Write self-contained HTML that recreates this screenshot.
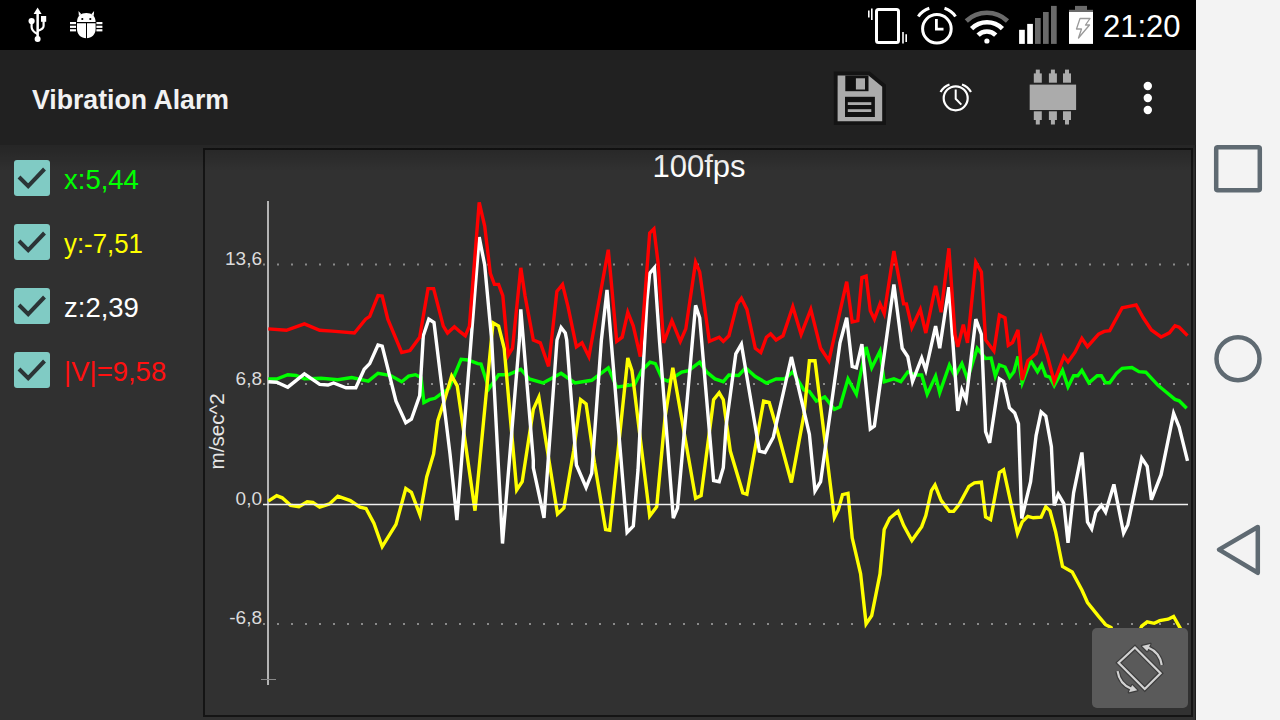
<!DOCTYPE html>
<html><head><meta charset="utf-8"><title>Vibration Alarm</title>
<style>
html,body{margin:0;padding:0;width:1280px;height:720px;overflow:hidden;background:#303030;}
svg{display:block;font-family:"Liberation Sans",sans-serif;}
</style></head>
<body>
<svg width="1280" height="720" viewBox="0 0 1280 720">
<defs>
<linearGradient id="shadow" x1="0" y1="0" x2="0" y2="1">
<stop offset="0" stop-color="#000" stop-opacity="0.22"/>
<stop offset="1" stop-color="#000" stop-opacity="0"/>
</linearGradient>
</defs>
<rect x="0" y="145" width="1196" height="575" fill="#303030"/>
<rect x="204" y="149" width="988" height="567" fill="#313131" stroke="#141414" stroke-width="2"/>
<!-- grid -->
<g stroke="#8a8a8a" stroke-width="2" stroke-dasharray="2 12">
<line x1="263" y1="264.5" x2="1190" y2="264.5"/>
<line x1="263" y1="384" x2="1190" y2="384"/>
<line x1="263" y1="624" x2="1190" y2="624"/>
</g>

<line x1="268" y1="201" x2="268" y2="685" stroke="#b4b4b4" stroke-width="2"/>
<line x1="261" y1="679.5" x2="276" y2="679.5" stroke="#8a8a8a" stroke-width="1"/>
<g font-size="19" fill="#dcdcdc" text-anchor="end">
<text x="262" y="265">13,6</text>
<text x="262" y="385">6,8</text>
<text x="262" y="504.5">0,0</text>
<text x="262" y="624">-6,8</text>
</g>
<text transform="translate(224.3 469.4) rotate(-90)" font-size="20" fill="#e6e6e6" textLength="76" lengthAdjust="spacingAndGlyphs">m/sec^2</text>
<text x="699" y="177" font-size="31" fill="#ffffff" text-anchor="middle">100fps</text>
<g fill="none" stroke-width="3.4" stroke-linejoin="miter" stroke-miterlimit="4" stroke-linecap="butt">
<polyline points="268.3,378.9 276.7,379 287.8,374.7 296,375.5 304.4,378.9 321,378.3 337.8,379.7 351.7,377.5 368.3,381.1 378,373.3 390.6,375.6 401.7,381.7 408.6,376.1 415.6,374.7 421.1,377.5 423.9,402.5 429.4,399.7 435,398.3 440.6,394.2 448.9,388.6 461.1,359.4 468,360 477.8,363.6 481,364 488.9,388.6 498.6,374.7 508.3,374.7 520.8,369.2 529.2,378.9 543,383 561.1,373.3 575,383 591.7,380.3 608.3,367.8 616.7,387.2 634.7,384.4 641.7,370.6 650,362.2 655.3,363.6 662.2,378.9 667.8,381.1 681.7,372 688.6,370.6 699.7,362.2 706.7,372 715,378.9 723.3,381.7 728.9,375 738.6,375.5 745.6,367.8 755.3,376.5 766.4,383 776.1,379 784.4,379 792.8,371.9 803.9,390 809.4,391.4 816.4,401.1 824.7,397 834.4,409.4 840,406.7 848,378.9 856.4,394.2 866.1,347 871.7,367.8 880,351.1 884.2,381.7 893.9,378.9 900.8,381.7 907.8,372 916.1,375 921.7,375 927.2,394.2 935.6,376.1 939.7,392.8 949.4,365 955,376.1 961.9,363.6 967.5,378.9 977.2,348.3 985.6,358.5 991.1,358 995.3,376.1 999.4,365 1005,367 1009.7,377.2 1013.9,371.7 1018,356.4 1022.2,382.8 1030.6,360.6 1037.5,371.7 1041.7,364.7 1045.8,375.8 1050,377.2 1054.2,385.6 1062.5,370.3 1068,386.9 1073.6,375.8 1077.8,375.8 1081.9,370.3 1088.9,382.8 1097.2,375.8 1101.4,375.8 1105.6,382.8 1109.7,382.8 1116.7,373.1 1122.2,368.3 1131.9,367.5 1138.9,371.7 1145.8,372.2 1158.3,385.6 1166.7,392.5 1175,399.4 1179.2,400.8 1186.7,408.3" stroke="#00ff00"/>
<polyline points="268.3,501.1 276.7,495.6 282.2,497.8 290.6,505.3 298.9,506.7 307.2,501.7 312.8,502.5 319.7,507.2 329.4,503.9 337.8,496.1 350.3,500.6 360,507.2 366,508.5 373.9,523.3 382.2,546.7 396,524.4 405.8,488.5 411.4,492.3 420,515 426.7,477 433.6,453.9 437.8,420.6 443.3,403.9 451.7,376.1 457.2,385.8 475,510.7 493,322.8 498.6,326.1 504.2,348.3 516.7,490 522.2,481.7 533.3,409.4 538.9,397 557.5,514 563.9,508 573.6,451.1 580.6,399.7 586.1,403.9 594.4,462.2 605.6,529.5 609.7,530.3 627.8,358 632,370.6 649.7,516 656.7,506.7 665,417.8 672.8,367.8 695.6,498.3 701.1,495.6 713.6,399.7 719.2,392.8 723.3,399.7 730.3,451.1 742.8,492.8 746.9,494.2 763.6,401.1 769.2,402.5 776.1,426.1 791.4,482.5 803.9,415 809.4,360.8 815,360.8 831.7,495.6 834.4,517.5 838.3,510 842.5,494.7 848,493.3 852.2,537.8 860.6,573.9 866.1,623.9 871.7,615.6 880,573.9 884.2,529.4 889.7,518.3 898,511.4 903.6,525.3 911.9,540.6 921.7,526.7 925.8,515.6 931.4,490.6 935,485 941.1,500.3 949.4,511.4 953.6,511.4 959.2,504.4 968.9,486.4 974.4,482.8 981.4,482.2 985.6,517 990.6,519.7 999.4,472.5 1003.6,469.7 1017.5,533.6 1022.2,521.9 1027.8,516.4 1033.3,517.8 1041.1,517.2 1045.8,506.7 1050,510.8 1055.6,531.7 1062.5,566.4 1072.2,571.9 1081.9,590 1087.5,602.5 1098.6,616.4 1105.6,624.7 1111.1,627.5 1116,640 1136,640 1141.7,626.1 1147.2,621.9 1154.2,623.3 1159.7,620.6 1168.1,619.2 1173.6,616.4 1180.6,628.9" stroke="#ffff00"/>
<polyline points="268.3,381.7 276.7,382.2 287.8,387.2 304.4,373.9 319.7,384.4 328,385 333.6,383 346,387.8 355.8,387.8 364.2,369.2 369.7,363.6 378,345 382.2,346.1 396,401.1 405.8,422.8 411.4,419.2 419.7,395.6 423.3,335.8 428.8,319.2 434,322.6 450,453.9 456.9,520 479.2,237.2 484.7,265 491.7,340 502.5,543.5 519.4,340 520.8,309.4 533.3,460 533.3,467.8 544,517.8 557,340 561.1,327.5 565.3,333 566.7,340 576.4,465 586.1,487.5 591.7,473.3 601.4,340 607,290 611.1,340 627.1,532.5 633.3,526.1 638,470 642,390 647,300 649.7,273.3 654.4,267.8 659.4,340 673.3,518 677.5,508 695.6,305.3 699.7,317.8 713.6,480.5 719.2,481.7 723.3,467.8 726.1,426.1 735.8,353.9 741.4,344.2 759.4,451.1 765,452.5 773.3,437.2 791.4,357 809.4,434.4 815,491 820.6,481.7 840,342.8 846.7,317.8 852.2,366.4 856.4,367.8 861.9,344.2 870.3,428.9 874.4,426.1 893.9,284.4 902.2,348.3 907.8,356.7 912.5,381.7 921.7,358 925.8,370 935.6,326.1 939.7,348.3 948.9,287.2 957.8,410.8 961.9,390 966.1,399.7 975.8,319.2 981.4,334.4 985.6,431.7 989.7,442.8 999.4,378.9 1003.6,381.5 1009.5,408 1014.7,413 1018.5,423.8 1021.7,518.5 1030.6,481.7 1036.1,435.6 1041.1,411.9 1045.8,416.1 1051.4,446.7 1054.2,505.3 1058.3,494.2 1063.9,503.9 1068,542.8 1073.6,492.8 1081.9,452.5 1087.5,521.9 1091.7,528.9 1095.8,512.2 1101.4,505.3 1105.6,512.2 1113.9,484.4 1123.6,533.1 1127.8,524.7 1141.7,458.1 1147.2,466.4 1151.4,499.7 1161.1,474.7 1173.6,413.3 1179.2,427.2 1187.5,460.8" stroke="#ffffff"/>
<polyline points="268.3,328.9 286.4,330.3 304.4,323.9 319.7,330.3 332.2,331.1 354.4,333 365.6,319.2 369.7,316.4 378,295.6 382.2,296.1 387.8,319.2 401.7,352.5 410,350.6 419.7,337.2 428,288.6 433.6,288.6 443.3,326.1 447.5,333 454.4,326.7 460,331.7 465.3,335.8 469.4,326.1 479.2,202.5 484.7,226.1 490.3,273.3 494.4,284.4 498.6,284.4 502.8,295.6 508.3,355.3 512.5,348.3 520.8,267.8 525,295.6 533.3,340 540.3,342.8 548.6,366.4 556.9,291.4 562.5,284.4 568,306.7 576.4,346.9 582,342.8 588.9,356.7 608.3,249.7 616.7,341.4 622.2,337.2 627.8,312.2 633.3,326.1 640.3,356.7 649.7,233 653.9,228.9 658,262.2 663.6,342.8 671.9,320.6 680.3,341.4 685.8,328.9 695.6,262.2 699.7,271.9 709.4,341.4 719.2,337.2 723.3,341.4 728.9,335.8 737.2,303.9 741.4,298.3 746.9,309.4 755.3,348.3 760.8,352.5 766.4,337.2 770.6,333.9 776.1,340 783,335.8 792.8,306.7 801.1,334.4 810.8,309.4 820.6,348.3 828.9,360.8 846.7,281.7 852.2,321.9 857.8,320.6 861.9,277.5 866.1,276.1 870.3,310.8 874.4,319.2 880,303.9 884.2,313.6 893.9,251.1 903.6,303.9 906.4,303.9 911.9,327.5 920.3,309.4 925.8,333 935.6,285.8 941.1,312.2 948.9,248.3 955,334.4 957.8,346.9 963.3,324.7 967.5,342.8 975.8,262.2 981.4,271.9 985.6,340 993.9,351.1 999.4,315 1005,317.8 1008.3,345.3 1012.5,342.5 1018,330 1022.2,380 1027.8,360.6 1036.1,353.6 1041.1,337 1047.2,355 1054.2,381.4 1063.9,356.4 1068,361.9 1075,352.2 1081.9,338.3 1087.5,346.7 1098.6,334.2 1104.2,331.4 1109.7,330.6 1122.2,307.8 1129.2,306.4 1136.1,305 1143.1,317.5 1151.4,330 1161.1,337 1169.4,332.8 1175,325.8 1179.2,327.2 1187.5,335.6" stroke="#ff0000"/>
</g>
<line x1="263" y1="504.4" x2="1188" y2="504.4" stroke="#f0f0f0" stroke-width="1.5"/>
<!-- rotate button -->
<rect x="1092" y="628" width="96" height="80" rx="5" fill="#5a5a5a"/>
<g transform="translate(1139.65 668.1)">
<g fill="none" stroke="#3c3c3c" stroke-width="4.6" stroke-linejoin="miter">
<polygon points="-4.7,-20.6 20.9,5.1 5.1,20.9 -21.1,-5.3"/>
<path d="M8.35 -20.68 A22.3 22.3 0 0 1 22.08 -3.1 M-8.35 20.68 A22.3 22.3 0 0 1 -22.08 3.1"/>
</g>
<g fill="#3c3c3c" stroke="#3c3c3c" stroke-width="2.4" stroke-linejoin="round">
<polygon points="2.33,-22.18 7.52,-16.9 10.78,-24.2"/>
<polygon points="-2.33,22.18 -7.52,16.9 -10.78,24.2"/>
</g>
<g fill="none" stroke="#d2d2d2" stroke-width="2.2" stroke-linejoin="miter">
<polygon points="-4.7,-20.6 20.9,5.1 5.1,20.9 -21.1,-5.3"/>
<path d="M8.35 -20.68 A22.3 22.3 0 0 1 22.08 -3.1 M-8.35 20.68 A22.3 22.3 0 0 1 -22.08 3.1"/>
</g>
<g fill="#d2d2d2">
<polygon points="2.33,-22.18 7.52,-16.9 10.78,-24.2"/>
<polygon points="-2.33,22.18 -7.52,16.9 -10.78,24.2"/>
</g>
</g>
<!-- action bar shadow -->
<rect x="0" y="145" width="1196" height="26" fill="url(#shadow)"/>
<!-- status bar -->
<rect x="0" y="0" width="1196" height="50" fill="#000"/>
<!-- action bar -->
<rect x="0" y="50" width="1196" height="95" fill="#212121"/>
<!-- nav bar -->
<rect x="1196" y="0" width="84" height="720" fill="#f3f3f3"/>
<rect x="1195" y="145" width="1" height="575" fill="#1c1c1c"/>

<!-- status icons left -->
<g fill="#fff" stroke="none">
<!-- usb -->
<path d="M37.6 7.5 L41.6 14 L33.6 14 Z"/>
<rect x="36.4" y="13" width="2.5" height="26"/>
<circle cx="37.6" cy="39" r="3"/>
<circle cx="31.6" cy="21" r="3.1"/>
<rect x="41" y="16" width="5.2" height="5.8"/>
<path d="M31.6 21 V27 Q31.6 31 37.6 34" fill="none" stroke="#fff" stroke-width="2.2"/>
<path d="M43.6 21 V26 Q43.6 29 37.6 31" fill="none" stroke="#fff" stroke-width="2.2"/>
<!-- bug -->
<path d="M77 22 C77 16 81 13 86.3 13 C91.6 13 95.6 16 95.6 22 Z"/>
<polygon points="78.5,11 78.9,16 81.3,14.2"/><polygon points="94.1,11 93.7,16 91.3,14.2"/>
<circle cx="82.3" cy="19" r="1.1" fill="#000"/>
<circle cx="90.3" cy="19" r="1.1" fill="#000"/>
<path d="M77 23.2 H95.6 V29 C95.6 34.5 91.6 38.3 86.3 38.3 C81 38.3 77 34.5 77 29 Z"/>
<rect x="86" y="23" width="1" height="16" fill="#000"/>
<rect x="70" y="22" width="6" height="2.2"/><rect x="70" y="25.7" width="6" height="2.2"/><rect x="70" y="29.2" width="6" height="2.2"/>
<rect x="96.4" y="22" width="6" height="2.2"/><rect x="96.4" y="25.7" width="6" height="2.2"/><rect x="96.4" y="29.2" width="6" height="2.2"/>
</g>
<!-- status icons right -->
<g fill="none" stroke="#fff">
<rect x="876.5" y="9.5" width="22" height="33" rx="2" stroke-width="3"/>
<path d="M868.8 10.5 V17.5 M871.8 8.5 V20 M903 32 V43.5 M906.2 34.2 V42" stroke-width="1.6"/>
<circle cx="936.9" cy="28.8" r="14.3" stroke-width="3"/>
<path d="M936.4 19 V29.2 H943.5" stroke-width="2.8"/>
<path d="M918.3 16.5 A 20 20 0 0 1 929.3 8.2 M944.5 8.2 A 20 20 0 0 1 955.5 16.5" stroke-width="3"/>
<path d="M966.3 21 A 30 30 0 0 1 1007.5 21" stroke="#6a6a6a" stroke-width="4.6"/>
<path d="M971.6 28.6 A 21.8 21.8 0 0 1 1002.4 28.6" stroke-width="4.6"/>
<path d="M978.1 35.2 A 12.4 12.4 0 0 1 995.7 35.2" stroke-width="4.6"/>
</g>
<circle cx="986.9" cy="41" r="2.6" fill="#fff"/>
<g fill="#fff">
<rect x="1019.1" y="29.8" width="5.7" height="14.1"/>
<rect x="1027.2" y="23.9" width="5.7" height="20"/>
<rect x="1035" y="18" width="5.7" height="25.9" fill="#6a6a6a"/>
<rect x="1043" y="12" width="5.7" height="31.9" fill="#6a6a6a"/>
<rect x="1051" y="5.9" width="5.7" height="38" fill="#6a6a6a"/>
<rect x="1075" y="5.9" width="12" height="4.5" fill="#6a6a6a"/>
<rect x="1069" y="9.8" width="24" height="2.4" fill="#6a6a6a"/>
<rect x="1069" y="12" width="24" height="31.9"/>
<path d="M1080 18.5 H1090 L1085.5 25 H1089.5 L1078.5 38 L1081.5 29 H1076.5 Z" fill="none" stroke="#9a9a9a" stroke-width="1.3" stroke-linejoin="round"/>
</g>
<text x="1103" y="37.3" font-size="31" fill="#fff">21:20</text>

<!-- action icons -->
<g>
<path d="M833.8 71.5 H869.8 L886 84.8 V125 H833.8 Z" fill="#141414"/>
<path d="M837.6 75.5 H868.5 L882.2 86.7 V121.2 H837.6 Z" fill="#ababab"/>
<rect x="845.3" y="75.5" width="23.2" height="15.7" fill="#111"/>
<rect x="855.9" y="78.3" width="9.1" height="11.2" fill="#ababab"/>
<rect x="845" y="96.8" width="29.9" height="20.2" fill="#111"/>
<rect x="847.8" y="102.2" width="23.5" height="2.8" fill="#ababab"/>
<rect x="847.8" y="109.2" width="23.5" height="2.8" fill="#ababab"/>
</g>
<g fill="none" stroke="#fff">
<circle cx="955.7" cy="98.3" r="12" stroke-width="2.2"/>
<path d="M955.7 89.5 V98.8 L961.3 104.6" stroke-width="2"/>
<path d="M940.5 92 A 17 17 0 0 1 949.5 84.5 M962 84.5 A 17 17 0 0 1 971 92" stroke-width="2.2"/>
</g>
<g fill="#ababab">
<rect x="1029.7" y="84.6" width="46.4" height="25.4"/>
<rect x="1033.8" y="73.4" width="8" height="9.3"/><rect x="1035.8" y="69.6" width="4" height="5"/>
<rect x="1048.9" y="73.4" width="8" height="9.3"/><rect x="1050.9" y="69.6" width="4" height="5"/>
<rect x="1063" y="73.4" width="8" height="9.3"/><rect x="1065" y="69.6" width="4" height="5"/>
<rect x="1033.8" y="111.3" width="8" height="8.7"/><rect x="1035.8" y="119" width="4" height="5.5"/>
<rect x="1048.9" y="111.3" width="8" height="8.7"/><rect x="1050.9" y="119" width="4" height="5.5"/>
<rect x="1063" y="111.3" width="8" height="8.7"/><rect x="1065" y="119" width="4" height="5.5"/>
</g>
<g fill="#fff">
<circle cx="1147.8" cy="86" r="4.2"/><circle cx="1147.8" cy="98" r="4.2"/><circle cx="1147.8" cy="110" r="4.2"/>
</g>
<text x="32" y="108.6" font-size="27.5" font-weight="bold" fill="#f2f2f2" textLength="197" lengthAdjust="spacingAndGlyphs">Vibration Alarm</text>

<!-- checkboxes -->
<g>
<rect x="14" y="160" width="36" height="36" rx="3" fill="#80cbc4"/>
<rect x="14" y="224" width="36" height="36" rx="3" fill="#80cbc4"/>
<rect x="14" y="288" width="36" height="36" rx="3" fill="#80cbc4"/>
<rect x="14" y="352" width="36" height="36" rx="3" fill="#80cbc4"/>
</g>
<g fill="none" stroke="#2b3436" stroke-width="4" stroke-linecap="butt">
<path d="M19 177 L28.2 186.2 L44.5 169"/>
<path d="M19 241 L28.2 250.2 L44.5 233"/>
<path d="M19 305 L28.2 314.2 L44.5 297"/>
<path d="M19 369 L28.2 378.2 L44.5 361"/>
</g>
<g font-size="27.5">
<text x="64" y="189" fill="#00ff00">x:5,44</text>
<text x="64" y="253" fill="#ffff00" textLength="79" lengthAdjust="spacingAndGlyphs">y:-7,51</text>
<text x="64" y="317" fill="#ffffff">z:2,39</text>
<text x="64" y="381" fill="#ff1010">|V|=9,58</text>
</g>

<g id="nav" fill="none" stroke="#5f6a72" stroke-width="4.5">
<rect x="1216.2" y="147.2" width="43.6" height="43" rx="1.5"/>
<circle cx="1238" cy="358.7" r="21.5"/>
<path d="M1257.8 527 L1219 549.6 L1257.8 572.8 Z" stroke-linejoin="round"/>
</g>
</svg>
</body></html>
